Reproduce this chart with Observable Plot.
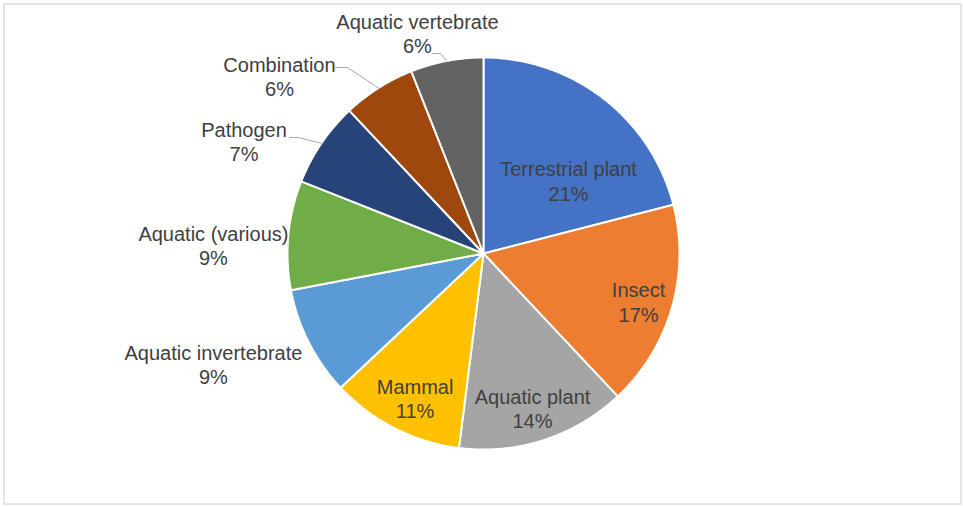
<!DOCTYPE html>
<html>
<head>
<meta charset="utf-8">
<script src="https://cdn.jsdelivr.net/npm/d3@7"></script>
<script src="https://cdn.jsdelivr.net/npm/@observablehq/plot@0.6"></script>
<style>
  html, body { margin: 0; padding: 0; background: #fff; }
  #chart svg { display: block; }
</style>
</head>
<body>
<div id="chart"></div>
<script>
// Share of studies by test organism group, clockwise from 12 o'clock
const categories = [
  "Terrestrial plant", "Insect", "Aquatic plant", "Mammal",
  "Aquatic invertebrate", "Aquatic (various)", "Pathogen",
  "Combination", "Aquatic vertebrate"
];
const shares = [21, 17, 14, 11, 9, 9, 7, 6, 6];
const sliceColors = [
  "#4472C4", "#ED7D31", "#A5A5A5", "#FFC000", "#5B9BD5",
  "#70AD47", "#264478", "#9E480E", "#636363"
];

// Canvas geometry (pixels): pie centre and radius, so the scales map the unit circle
const W = 963, H = 506, CX = 483, CY = 253, R = 196;

// Label placement in unit-radius coordinates (x right, y up); leaders run from label to slice edge
const labelLayout = {
  "Terrestrial plant":    {x: 0.434,  y: 0.372},
  "Insect":               {x: 0.791,  y: -0.245},
  "Aquatic plant":        {x: 0.250,  y: -0.788},
  "Mammal":               {x: -0.349, y: -0.737},
  "Aquatic invertebrate": {x: -1.378, y: -0.564},
  "Aquatic (various)":    {x: -1.378, y: 0.043},
  "Pathogen":             {x: -1.222, y: 0.574, leader: [[-0.990, 0.592], [-0.944, 0.592]]},
  "Combination":          {x: -1.041, y: 0.906, leader: [[-0.755, 0.949], [-0.694, 0.949]]},
  "Aquatic vertebrate":   {x: -0.337, y: 1.125, leader: [[-0.260, 1.020], [-0.219, 1.020]]}
};

const total = d3.sum(shares);
const slices = [];
let acc = 0;
categories.forEach((c, i) => {
  const a0 = acc / total * 2 * Math.PI;
  acc += shares[i];
  const a1 = acc / total * 2 * Math.PI;
  slices.push({category: c, share: shares[i], a0, a1, mid: (a0 + a1) / 2});
});

// Outline of each slice: centre, arc, back to centre
const slicePoints = [];
for (const s of slices) {
  slicePoints.push({category: s.category, x: 0, y: 0});
  const n = Math.max(8, Math.ceil((s.a1 - s.a0) / (Math.PI / 360)));
  for (let k = 0; k <= n; k++) {
    const a = s.a0 + (s.a1 - s.a0) * k / n;
    slicePoints.push({category: s.category, x: Math.sin(a), y: Math.cos(a)});
  }
  slicePoints.push({category: s.category, x: 0, y: 0});
}

const labels = slices.map(s => ({
  category: s.category,
  x: labelLayout[s.category].x,
  y: labelLayout[s.category].y,
  text: `${s.category}\n${s.share}%`
}));

const leaderPoints = [];
for (const s of slices) {
  const L = labelLayout[s.category].leader;
  if (!L) continue;
  for (const [x, y] of L) leaderPoints.push({category: s.category, x, y});
  leaderPoints.push({category: s.category, x: Math.sin(s.mid), y: Math.cos(s.mid)});
}

const fontFamily = "'Liberation Sans', Arial, Helvetica, sans-serif";

const chart = Plot.plot({
  width: W,
  height: H,
  margin: 0,
  style: {fontFamily, background: "#fff"},
  x: {domain: [-CX / R, (W - CX) / R], axis: null},
  y: {domain: [-(H - CY) / R, CY / R], axis: null},
  color: {domain: categories, range: sliceColors},
  marks: [
    Plot.frame({stroke: "#dcdcdc", strokeWidth: 1.5, insetTop: 3.5, insetLeft: 3.5, insetRight: 2.5, insetBottom: 2.5}),
    Plot.line(slicePoints, {
      x: "x", y: "y", z: "category", fill: "category",
      stroke: "#ffffff", strokeWidth: 2, strokeLinejoin: "miter", curve: "linear"
    }),
    Plot.line(leaderPoints, {
      x: "x", y: "y", z: "category", stroke: "#a6a6a6", strokeWidth: 1, curve: "linear"
    }),
    Plot.text(labels, {
      x: "x", y: "y", text: "text",
      fontSize: 20, lineHeight: 1.22, fill: "#404040", fontFamily
    })
  ]
});

document.getElementById("chart").appendChild(chart);
</script>
</body>
</html>
